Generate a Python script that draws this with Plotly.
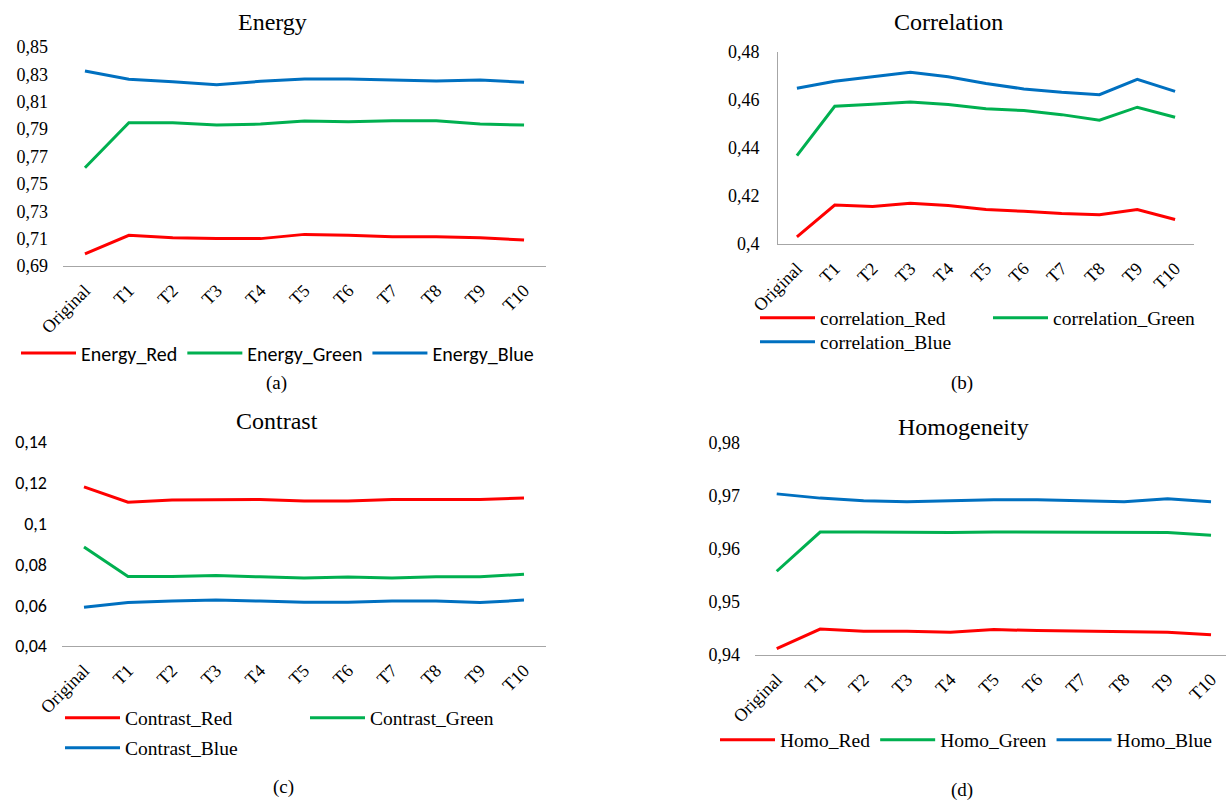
import plotly.graph_objects as go

# ---------------- data ----------------
categories = ["Original", "T1", "T2", "T3", "T4", "T5", "T6", "T7", "T8", "T9", "T10"]

energy_red = [0.6988, 0.7124, 0.7107, 0.7100, 0.7100, 0.7131, 0.7124, 0.7114, 0.7114, 0.7107, 0.7090]
energy_green = [0.7618, 0.7947, 0.7947, 0.7930, 0.7937, 0.7959, 0.7954, 0.7962, 0.7962, 0.7937, 0.7930]
energy_blue = [0.8325, 0.8264, 0.8247, 0.8225, 0.8249, 0.8266, 0.8266, 0.8259, 0.8252, 0.8259, 0.8242]

corr_red = [0.4030, 0.4162, 0.4156, 0.4170, 0.4160, 0.4144, 0.4136, 0.4127, 0.4122, 0.4144, 0.4102]
corr_green = [0.4368, 0.4574, 0.4582, 0.4592, 0.4581, 0.4564, 0.4556, 0.4539, 0.4516, 0.4570, 0.4528]
corr_blue = [0.4649, 0.4678, 0.4697, 0.4716, 0.4697, 0.4669, 0.4646, 0.4632, 0.4622, 0.4686, 0.4636]

contrast_red = [0.1180, 0.1105, 0.1116, 0.1118, 0.1118, 0.1111, 0.1111, 0.1118, 0.1118, 0.1118, 0.1126]
contrast_green = [0.0885, 0.0741, 0.0741, 0.0746, 0.0739, 0.0733, 0.0738, 0.0733, 0.0739, 0.0739, 0.0752]
contrast_blue = [0.0590, 0.0613, 0.0620, 0.0625, 0.0620, 0.0615, 0.0615, 0.0620, 0.0620, 0.0613, 0.0625]

homo_red = [0.9412, 0.9449, 0.9445, 0.9445, 0.9443, 0.9448, 0.9446, 0.9445, 0.9445, 0.9443, 0.9438]
homo_green = [0.9558, 0.9632, 0.9632, 0.9631, 0.9631, 0.9632, 0.9632, 0.9632, 0.9632, 0.9631, 0.9626]
homo_blue = [0.9704, 0.9696, 0.9691, 0.9689, 0.9691, 0.9693, 0.9693, 0.9691, 0.9689, 0.9695, 0.9689]

energy_ticks = [0.69, 0.71, 0.73, 0.75, 0.77, 0.79, 0.81, 0.83, 0.85]
energy_ticktext = ["0,69", "0,71", "0,73", "0,75", "0,77", "0,79", "0,81", "0,83", "0,85"]
corr_ticks = [0.40, 0.42, 0.44, 0.46, 0.48]
corr_ticktext = ["0,4", "0,42", "0,44", "0,46", "0,48"]
contrast_ticks = [0.04, 0.06, 0.08, 0.10, 0.12, 0.14]
contrast_ticktext = ["0,04", "0,06", "0,08", "0,1", "0,12", "0,14"]
homo_ticks = [0.94, 0.95, 0.96, 0.97, 0.98]
homo_ticktext = ["0,94", "0,95", "0,96", "0,97", "0,98"]

titles = ["Energy", "Correlation", "Contrast", "Homogeneity"]
captions = ["(a)", "(b)", "(c)", "(d)"]

# ---------------- styling ----------------
W, H = 1226, 801
RED, GREEN, BLUE = "#FF0000", "#00B050", "#0070C0"
SERIF = "Liberation Serif, Times New Roman, serif"
SANS = "Carlito, Lato, sans-serif"
AXC = "#A6A6A6"


def px_x(p):
    return p / W


def px_y(p):
    return 1 - p / H


fig = go.Figure()

panels = [
    ("x", "y", [energy_red, energy_green, energy_blue],
     ["Energy_Red", "Energy_Green", "Energy_Blue"], ["legend", "legend", "legend"]),
    ("x2", "y2", [corr_red, corr_green, corr_blue],
     ["correlation_Red", "correlation_Green", "correlation_Blue"], ["legend2", "legend2", "legend3"]),
    ("x3", "y3", [contrast_red, contrast_green, contrast_blue],
     ["Contrast_Red", "Contrast_Green", "Contrast_Blue"], ["legend4", "legend4", "legend5"]),
    ("x4", "y4", [homo_red, homo_green, homo_blue],
     ["Homo_Red", "Homo_Green", "Homo_Blue"], ["legend6", "legend6", "legend6"]),
]
colors = [RED, GREEN, BLUE]

for xa, ya, series, names, legs in panels:
    for vals, name, col, lg in zip(series, names, colors, legs):
        fig.add_trace(go.Scatter(
            x=categories, y=vals, name=name, mode="lines",
            line=dict(color=col, width=3),
            xaxis=xa, yaxis=ya, legend=lg, showlegend=True,
            hoverinfo="skip",
        ))

xt_font = dict(family=SERIF, size=18, color="black")


def xaxis(domain, anchor, rng=(-0.5, 10.5)):
    return dict(domain=domain, anchor=anchor, type="category",
                range=list(rng), showgrid=False, zeroline=False,
                showline=True, linecolor=AXC, linewidth=1,
                ticks="", tickangle=-45, tickfont=xt_font,
                ticklabelstandoff=6, automargin=False, fixedrange=True)


def yaxis(domain, anchor, rng, tv, tt, font, line=False):
    return dict(domain=domain, anchor=anchor, range=list(rng),
                tickvals=tv, ticktext=tt, showgrid=False, zeroline=False,
                showline=line, linecolor=AXC, linewidth=1,
                ticks="", tickfont=font, ticklabelstandoff=14,
                automargin=False, fixedrange=True)


yt_serif = dict(family=SERIF, size=18, color="black")
yt_sans = dict(family=SANS, size=18, color="black")

layout = dict(
    width=W, height=H, autosize=False,
    margin=dict(l=0, r=0, t=0, b=0, pad=0),
    paper_bgcolor="white", plot_bgcolor="white",
    xaxis=xaxis([px_x(63), px_x(546)], "y"),
    yaxis=yaxis([px_y(266), px_y(47)], "x", (0.69, 0.85), energy_ticks, energy_ticktext, yt_serif),
    xaxis2=xaxis([px_x(778), px_x(1194)], "y2"),
    yaxis2=yaxis([px_y(244), px_y(52)], "x2", (0.40, 0.48), corr_ticks, corr_ticktext, yt_serif, line=True),
    xaxis3=xaxis([px_x(62), px_x(546)], "y3"),
    yaxis3=yaxis([px_y(646), px_y(442)], "x3", (0.04, 0.14), contrast_ticks, contrast_ticktext, yt_sans),
    xaxis4=xaxis([px_x(755), 1.0], "y4", (-0.5, 10.345)),
    yaxis4=yaxis([px_y(655), px_y(443)], "x4", (0.94, 0.98), homo_ticks, homo_ticktext, yt_serif),
)


def leg(x, y, font, entrywidth=None):
    d = dict(orientation="h", x=px_x(x), y=px_y(y), xanchor="left", yanchor="middle",
             font=font, bgcolor="rgba(0,0,0,0)", borderwidth=0,
             itemwidth=55, traceorder="normal", itemclick=False, itemdoubleclick=False)
    if entrywidth:
        d["entrywidth"] = entrywidth
        d["entrywidthmode"] = "pixels"
    return d


leg_sans = dict(family=SANS, size=20, color="black")
leg_serif = dict(family=SERIF, size=19.5, color="black")

layout["legend"] = leg(16, 353, leg_sans)
layout["legend2"] = leg(755, 318, leg_serif, 163)
layout["legend3"] = leg(755, 342, leg_serif)
layout["legend4"] = leg(60, 718, leg_serif, 175)
layout["legend5"] = leg(60, 748, leg_serif)
layout["legend6"] = leg(715, 740, leg_serif)

title_pos = [(272, 22), (948, 22), (277, 421), (963, 427)]
cap_pos = [(276, 383), (962, 383), (283, 787), (962, 790)]
ann = []
for t, (x, y) in zip(titles, title_pos):
    ann.append(dict(text=t, x=px_x(x), y=px_y(y), xref="paper", yref="paper",
                    showarrow=False, xanchor="center", yanchor="middle",
                    font=dict(family=SERIF, size=24, color="black")))
for t, (x, y) in zip(captions, cap_pos):
    ann.append(dict(text=t, x=px_x(x), y=px_y(y), xref="paper", yref="paper",
                    showarrow=False, xanchor="center", yanchor="middle",
                    font=dict(family=SERIF, size=19, color="black")))
layout["annotations"] = ann

fig.update_layout(**layout)

fig.write_html("out.html", config={"displayModeBar": False},
               post_script="document.body.style.margin='0px';document.body.style.overflow='hidden';")
